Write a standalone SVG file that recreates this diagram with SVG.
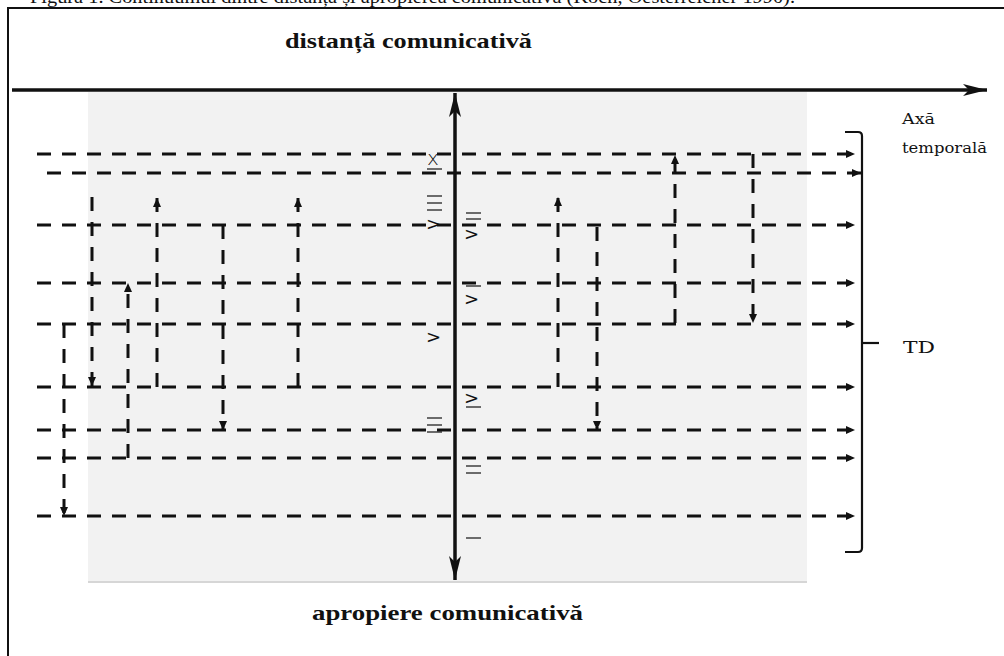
<svg xmlns="http://www.w3.org/2000/svg" width="1004" height="656" viewBox="0 0 1004 656">
<defs>
<marker id="ah" viewBox="0 0 9 8" refX="9" refY="4" markerWidth="9" markerHeight="8" markerUnits="userSpaceOnUse" orient="auto">
<path d="M0,0 L9,4 L0,8 z" fill="#111"/>
</marker>
<marker id="big" viewBox="0 0 24 12" refX="24" refY="6" markerWidth="24" markerHeight="12" markerUnits="userSpaceOnUse" orient="auto-start-reverse">
<path d="M0,0 L24,6 L0,12 L6,6 z" fill="#111"/>
</marker>
</defs>
<style>
.frame{fill:none;stroke:#111;stroke-width:2}
.axis{fill:none;stroke:#111;stroke-width:3.5}
.dh{fill:none;stroke:#111;stroke-width:3;stroke-dasharray:14 11}
.dv{fill:none;stroke:#111;stroke-width:3;stroke-dasharray:14 11}
.title{font-family:"Liberation Serif",serif;font-weight:bold;font-size:22px;fill:#111}
.cap{font-family:"Liberation Serif",serif;font-size:18px;fill:#111}
.lbl{font-family:"DejaVu Serif","Liberation Serif",serif;font-size:15px;fill:#111}
.sym{font-family:"DejaVu Sans","Liberation Sans",sans-serif;font-size:18px;fill:#111}
.bar{stroke:#111;stroke-width:1.2}
.br{fill:none;stroke:#111;stroke-width:2.2}
</style>
<rect width="1004" height="656" fill="#fff"/>
<g id="caption">
<text class="cap" x="30" y="3" textLength="765" lengthAdjust="spacingAndGlyphs">Figura 1. Continuumul dintre distanța și apropierea comunicativă (Koch, Oesterreicher 1990).</text>
</g>
<g id="frame">
<path class="frame" d="M8,656 L8,8 L1004,8"/>
</g>
<g id="background">
<rect x="88" y="92" width="719" height="490" fill="#f2f2f2"/>
<line x1="88" y1="582" x2="807" y2="582" stroke="#d6d6d6" stroke-width="2"/>
</g>
<g id="title-top">
<text class="title" x="285" y="48" textLength="247" lengthAdjust="spacingAndGlyphs">distanță comunicativă</text>
</g>
<g id="title-bottom">
<text class="title" x="312" y="620" textLength="271" lengthAdjust="spacingAndGlyphs">apropiere comunicativă</text>
</g>
<g id="label-axa">
<text class="lbl" x="902" y="124" textLength="33" lengthAdjust="spacingAndGlyphs">Axă</text>
<text class="lbl" x="902" y="153" textLength="85" lengthAdjust="spacingAndGlyphs">temporală</text>
</g>
<g id="label-td">
<text class="lbl" x="903" y="353" style="font-size:17px" textLength="32" lengthAdjust="spacingAndGlyphs">TD</text>
</g>
<g id="bracket">
<path class="br" d="M845,132 L858,132 Q862,132 862,136 L862,548 Q862,552 858,552 L845,552"/>
<line class="br" x1="862" y1="343" x2="879" y2="343"/>
</g>
<g id="symbols">
<text class="sym" x="427" y="165" style="font-size:20px;font-weight:300">x</text>
<line class="bar" x1="427" y1="169" x2="442" y2="169"/>
<line class="bar" x1="427" y1="196" x2="442" y2="196"/>
<line class="bar" x1="427" y1="203" x2="442" y2="203"/>
<line class="bar" x1="427" y1="210" x2="442" y2="210"/>
<text class="sym" x="426" y="230">&gt;</text>
<line class="bar" x1="466" y1="213" x2="481" y2="213"/>
<line class="bar" x1="466" y1="219" x2="481" y2="219"/>
<text class="sym" x="464" y="240">&gt;</text>
<line class="bar" x1="466" y1="286" x2="481" y2="286"/>
<text class="sym" x="464" y="305">&gt;</text>
<text class="sym" x="426" y="343">&gt;</text>
<text class="sym" x="464" y="404">&gt;</text>
<line class="bar" x1="466" y1="407" x2="481" y2="407"/>
<line class="bar" x1="427" y1="418" x2="442" y2="418"/>
<line class="bar" x1="427" y1="425" x2="442" y2="425"/>
<line class="bar" x1="427" y1="432" x2="442" y2="432"/>
<line class="bar" x1="466" y1="466" x2="481" y2="466"/>
<line class="bar" x1="466" y1="473" x2="481" y2="473"/>
<line class="bar" x1="466" y1="538" x2="481" y2="538"/>
</g>
<g id="connectors">
<line class="axis" x1="12" y1="90" x2="987" y2="90" marker-end="url(#big)"/>
<line class="axis" x1="455" y1="93" x2="455" y2="580" marker-start="url(#big)" marker-end="url(#big)"/>
<path class="dh" d="M37,154 L855,154" marker-end="url(#ah)"/>
<path class="dh" d="M47,173 L861,173" marker-end="url(#ah)"/>
<path class="dh" d="M37,225 L855,225" marker-end="url(#ah)"/>
<path class="dh" d="M37,283 L855,283" marker-end="url(#ah)"/>
<path class="dh" d="M37,324 L855,324" marker-end="url(#ah)"/>
<path class="dh" d="M37,387 L855,387" marker-end="url(#ah)"/>
<path class="dh" d="M37,430 L855,430" marker-end="url(#ah)"/>
<path class="dh" d="M37,458 L855,458" marker-end="url(#ah)"/>
<path class="dh" d="M37,516 L855,516" marker-end="url(#ah)"/>
<path class="dv" d="M92,197 L92,386" marker-end="url(#ah)"/>
<path class="dv" d="M157,387 L157,198" marker-end="url(#ah)"/>
<path class="dv" d="M223,225 L223,430" marker-end="url(#ah)"/>
<path class="dv" d="M298,387 L298,198" marker-end="url(#ah)"/>
<path class="dv" d="M128,458 L128,283" marker-end="url(#ah)"/>
<path class="dv" d="M64,324 L64,516" marker-end="url(#ah)"/>
<path class="dv" d="M558,387 L558,197" marker-end="url(#ah)"/>
<path class="dv" d="M597,227 L597,430" marker-end="url(#ah)"/>
<path class="dv" d="M675,323 L675,155" marker-end="url(#ah)"/>
<path class="dv" d="M753,154 L753,323" marker-end="url(#ah)"/>
</g>
</svg>
